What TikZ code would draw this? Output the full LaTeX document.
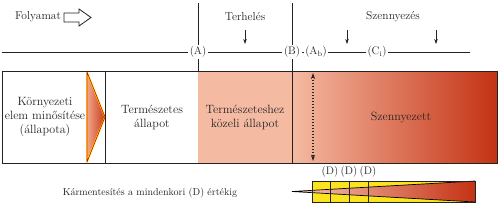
\documentclass[tikz,border=0pt]{standalone}
\usepackage{tikz}
\usetikzlibrary{arrows.meta,positioning}
\definecolor{kpink}{RGB}{245,186,162}
\definecolor{kred}{RGB}{196,50,20}
\definecolor{korange}{RGB}{236,128,88}
\definecolor{kyellow}{RGB}{250,228,30}
\definecolor{kgray}{RGB}{35,35,35}

\begin{document}
\begin{tikzpicture}[x=1pt,y=-1pt,
  rule/.style={line width=0.8pt, kgray},
  lbl/.style={font=\fontsize{11.5}{13}\selectfont, text=kgray, inner sep=1pt},
  onlbl/.style={font=\fontsize{11}{13}\selectfont, text=kgray, inner sep=1.5pt},
  drop/.style={-{Stealth[length=5pt,width=3.5pt]}, line width=0.7pt, kgray},
  cell/.style={align=center, font=\fontsize{12}{14}\selectfont, text=kgray}
]
\useasboundingbox (0,0) rectangle (500,209);
% fills of the state bar
\fill[kpink] (198,71) rectangle (292,163);
\shade[left color=kpink, right color=kred] (292,71) rectangle (497,163);
% wedge (quality)
\shade[left color=korange!70!white, right color=kred!90!korange] (87,72) -- (105,117) -- (87,162) -- cycle;
\draw[yellow, line width=1.4pt, line join=round] (87,72) -- (105,117) -- (87,162) -- cycle;
\draw[red!80!black, line width=0.6pt, line join=round] (87,72) -- (105,117) -- (87,162) -- cycle;
% state bar
\draw[rule] (2,71) rectangle (497,163);
\draw[rule] (105,71) -- (105,163);
% time line
\coordinate (lstart) at (2,52);
\node[onlbl] (A) at (198,52) {(A)};
\node[onlbl] (B) at (292,52) {(B)};
\node[onlbl] (Ab) at (316,52) {(A\textsubscript{b})};
\node[onlbl] (Ci) at (377,52) {(C\textsubscript{i})};
\coordinate (lend) at (470,52);
\draw[rule] (lstart) -- (A) -- (B) -- (Ab) -- (Ci) -- (lend);
\coordinate (Atop) at (198,3);
\coordinate (Abot) at (198,71);
\coordinate (Btop) at (292,3);
\coordinate (Bbot) at (292,163);
\draw[rule] (Atop) -- (A);
\draw[rule] (A) -- (Abot);
\draw[rule] (Btop) -- (B);
\draw[rule] (B) -- (Bbot);
% headings
\node[lbl] (folyamat) at (38,17) {Folyamat};
\coordinate (flow) at (64,17.5);
\draw[rule, line join=miter, fill=white] (flow) ++(0,-4.5) -- ++(15,0) -- ++(0,-4) -- ++(12,8.5)
  -- ++(-12,8.5) -- ++(0,-4) -- ++(-15,0) -- cycle;
\node[lbl] (terh) at (245,17) {Terhelés};
\node[lbl] (szenny) at (393,17) {Szennyezés};
\coordinate (t1s) at (245,30); \coordinate (t1e) at (245,44);
\coordinate (s1s) at (347,30); \coordinate (s1e) at (347,44);
\coordinate (s2s) at (436,30); \coordinate (s2e) at (436,44);
\draw[drop] (t1s) -- (t1e);
\draw[drop] (s1s) -- (s1e);
\draw[drop] (s2s) -- (s2e);
% cell texts
\node[cell] (elem) at (45,117) {Környezeti\\elem minősítése\\(állapota)};
\node[cell] (term) at (152,117) {Természetes\\állapot};
\node[cell] (kozeli) at (245,117) {Természeteshez\\közeli állapot};
\node[cell] (szennyezett) at (401,117) {Szennyezett};
% range of contamination
\coordinate (dtop) at (313,73);
\coordinate (dbot) at (313,161);
\draw[{Stealth[length=6pt,width=4pt]}-{Stealth[length=6pt,width=4pt]}, line width=1.2pt,
  dash pattern=on 1.4pt off 1.6pt, kgray] (dtop) -- (dbot);
% remediation
\node[font=\normalsize, text=kgray, inner sep=1pt] (karm) at (150,193) {Kármentesítés a mindenkori (D) értékig};
\fill[kyellow] (312,181) rectangle (475,202);
\shade[left color=kpink!80!white, right color=kred] (292,191.5) -- (475,181) -- (475,202) -- cycle;
\draw[line width=0.7pt, black] (475,181) -- (292,191.5) -- (475,202);
\foreach \x/\n in {330/1,349/2,368/3}{
  \node[onlbl] (D\n) at (\x,172) {(D)};
  \draw[line width=0.7pt, kgray] (\x,181) -- (\x,202);
}
\draw[line width=0.7pt, kgray] (312,181) rectangle (475,202);
\end{tikzpicture}
\end{document}
